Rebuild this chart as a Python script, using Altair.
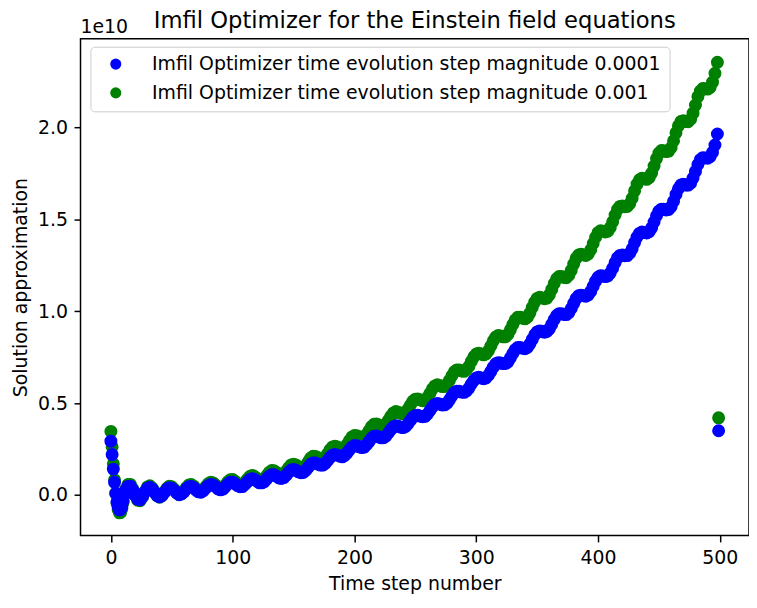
import altair as alt
import pandas as pd

# time step numbers (every step at the start, every 2 steps afterwards, plus the last step)
steps = list(range(0, 12)) + list(range(12, 499, 2)) + [499]

# values in units of 1e10
green = [0.346, 0.262, 0.170, 0.083, 0.010, -0.045, -0.080, -0.097, -0.095, -0.075, -0.040, 0.000,
         0.030, 0.057, 0.058, 0.033, -0.002, -0.028, -0.031, -0.010, 0.020, 0.044,
         0.050, 0.038, 0.016, -0.004, -0.012, -0.003, 0.017, 0.037, 0.048, 0.045,
         0.031, 0.014, 0.003, 0.007, 0.021, 0.040, 0.054, 0.057, 0.048, 0.033,
         0.020, 0.018, 0.028, 0.046, 0.062, 0.070, 0.066, 0.054, 0.040, 0.034,
         0.039, 0.054, 0.072, 0.083, 0.084, 0.075, 0.062, 0.054, 0.056, 0.069,
         0.086, 0.101, 0.107, 0.101, 0.090, 0.080, 0.079, 0.088, 0.106, 0.123,
         0.133, 0.132, 0.123, 0.112, 0.108, 0.114, 0.130, 0.149, 0.164, 0.168,
         0.163, 0.152, 0.146, 0.148, 0.161, 0.181, 0.201, 0.211, 0.210, 0.203,
         0.196, 0.196, 0.207, 0.226, 0.247, 0.262, 0.266, 0.261, 0.254, 0.251,
         0.259, 0.276, 0.298, 0.316, 0.324, 0.323, 0.316, 0.311, 0.315, 0.330,
         0.351, 0.372, 0.385, 0.387, 0.381, 0.375, 0.376, 0.388, 0.408, 0.430,
         0.447, 0.454, 0.451, 0.444, 0.442, 0.449, 0.468, 0.490, 0.511, 0.522,
         0.523, 0.517, 0.513, 0.516, 0.531, 0.554, 0.578, 0.594, 0.600, 0.596,
         0.590, 0.591, 0.603, 0.624, 0.649, 0.671, 0.681, 0.681, 0.675, 0.673,
         0.682, 0.701, 0.728, 0.752, 0.767, 0.772, 0.768, 0.763, 0.768, 0.785,
         0.811, 0.839, 0.860, 0.868, 0.866, 0.861, 0.861, 0.874, 0.899, 0.928,
         0.953, 0.967, 0.968, 0.963, 0.959, 0.968, 0.990, 1.021, 1.050, 1.070,
         1.076, 1.073, 1.068, 1.072, 1.089, 1.119, 1.151, 1.177, 1.189, 1.189,
         1.184, 1.183, 1.196, 1.223, 1.257, 1.288, 1.306, 1.311, 1.307, 1.304,
         1.312, 1.335, 1.369, 1.403, 1.428, 1.438, 1.436, 1.432, 1.436, 1.455,
         1.487, 1.524, 1.555, 1.571, 1.573, 1.569, 1.570, 1.585, 1.615, 1.655,
         1.692, 1.716, 1.724, 1.721, 1.718, 1.727, 1.752, 1.790, 1.831, 1.861,
         1.875, 1.874, 1.869, 1.872, 1.890, 1.927, 1.971, 2.009, 2.033, 2.037,
         2.033, 2.032, 2.045, 2.078, 2.122, 2.168, 2.199, 2.212, 2.211, 2.209,
         2.218, 2.247, 2.295, 2.355,
         0.420]

blue = [0.293, 0.220, 0.141, 0.069, 0.008, -0.037, -0.066, -0.081, -0.079, -0.062, -0.033, 0.000,
        0.025, 0.047, 0.048, 0.027, -0.002, -0.023, -0.026, -0.008, 0.017, 0.037,
        0.042, 0.032, 0.013, -0.003, -0.010, -0.002, 0.014, 0.031, 0.040, 0.037,
        0.026, 0.012, 0.002, 0.006, 0.017, 0.033, 0.045, 0.047, 0.040, 0.027,
        0.017, 0.015, 0.023, 0.038, 0.051, 0.058, 0.055, 0.045, 0.033, 0.028,
        0.032, 0.045, 0.060, 0.069, 0.070, 0.062, 0.051, 0.045, 0.046, 0.057,
        0.071, 0.084, 0.089, 0.084, 0.075, 0.066, 0.066, 0.073, 0.088, 0.102,
        0.110, 0.110, 0.102, 0.093, 0.090, 0.095, 0.108, 0.124, 0.136, 0.139,
        0.135, 0.126, 0.121, 0.123, 0.134, 0.150, 0.167, 0.175, 0.174, 0.168,
        0.163, 0.163, 0.172, 0.188, 0.205, 0.217, 0.221, 0.217, 0.211, 0.208,
        0.215, 0.229, 0.247, 0.262, 0.269, 0.268, 0.262, 0.258, 0.261, 0.274,
        0.291, 0.309, 0.320, 0.321, 0.316, 0.311, 0.312, 0.322, 0.339, 0.357,
        0.371, 0.377, 0.374, 0.369, 0.367, 0.373, 0.388, 0.407, 0.424, 0.433,
        0.434, 0.429, 0.426, 0.428, 0.441, 0.460, 0.480, 0.493, 0.498, 0.495,
        0.490, 0.491, 0.500, 0.518, 0.539, 0.557, 0.565, 0.565, 0.560, 0.559,
        0.566, 0.582, 0.604, 0.624, 0.637, 0.641, 0.637, 0.633, 0.637, 0.652,
        0.673, 0.696, 0.714, 0.720, 0.719, 0.715, 0.715, 0.725, 0.746, 0.770,
        0.791, 0.803, 0.803, 0.799, 0.796, 0.803, 0.822, 0.847, 0.872, 0.888,
        0.893, 0.891, 0.886, 0.890, 0.904, 0.929, 0.955, 0.977, 0.987, 0.987,
        0.983, 0.982, 0.993, 1.015, 1.043, 1.069, 1.084, 1.088, 1.085, 1.082,
        1.089, 1.108, 1.136, 1.164, 1.185, 1.194, 1.192, 1.189, 1.192, 1.208,
        1.234, 1.265, 1.291, 1.304, 1.306, 1.302, 1.303, 1.316, 1.340, 1.374,
        1.404, 1.424, 1.431, 1.428, 1.426, 1.433, 1.454, 1.486, 1.520, 1.545,
        1.556, 1.555, 1.551, 1.554, 1.569, 1.599, 1.636, 1.667, 1.687, 1.691,
        1.687, 1.687, 1.697, 1.725, 1.761, 1.799, 1.825, 1.836, 1.835, 1.833,
        1.841, 1.865, 1.905, 1.965,
        0.350]

label_blue = "Imfil Optimizer time evolution step magnitude 0.0001"
label_green = "Imfil Optimizer time evolution step magnitude 0.001"
title_text = "Imfil Optimizer for the Einstein field equations"
x_ticks = [0, 100, 200, 300, 400, 500]
y_ticks = [0.0, 0.5, 1.0, 1.5, 2.0]

n = len(steps)
df = pd.DataFrame({
    "step": steps + steps,
    "value": blue + green,
    "series": [label_blue] * n + [label_green] * n,
})

FONT = "DejaVu Sans"
W, H = 673, 500

points = alt.Chart(df).mark_circle(size=170, opacity=1).encode(
    x=alt.X("step:Q",
            scale=alt.Scale(domain=[-24.95, 523.95], nice=False, zero=False),
            axis=alt.Axis(values=x_ticks, title="Time step number", format="d")),
    y=alt.Y("value:Q",
            scale=alt.Scale(domain=[-0.22, 2.483], nice=False, zero=False),
            axis=alt.Axis(values=y_ticks, title="Solution approximation", format=".1f")),
    color=alt.Color("series:N",
                    scale=alt.Scale(domain=[label_blue, label_green], range=["#0000ff", "#008000"]),
                    sort=[label_blue, label_green],
                    legend=alt.Legend(title=None, orient="none", legendX=10, legendY=8,
                                      fillColor="white", strokeColor="#cccccc", cornerRadius=4,
                                      padding=8, symbolType="circle", symbolSize=125,
                                      symbolStrokeWidth=0, symbolOpacity=1, symbolOffset=8,
                                      labelFont=FONT, labelFontSize=19, labelColor="black",
                                      labelOffset=27, labelLimit=1000, rowPadding=9)),
    order=alt.Order("series:N", sort="descending"),
)

offset_text = alt.Chart(pd.DataFrame({"t": ["1e10"]})).mark_text(
    align="left", baseline="alphabetic", font=FONT, fontSize=19, color="black"
).encode(text="t:N", x=alt.value(0), y=alt.value(-6))

title_mark = alt.Chart(pd.DataFrame({"t": [title_text]})).mark_text(
    align="center", baseline="alphabetic", font=FONT, fontSize=22.8, color="black"
).encode(text="t:N", x=alt.value(W / 2), y=alt.value(-11))

chart = alt.layer(points, offset_text, title_mark).properties(
    width=W, height=H,
    autosize=alt.AutoSizeParams(type="none"),
    padding={"left": 73, "top": 29, "right": 0, "bottom": 63},
).configure_view(
    stroke="black", strokeWidth=1.5
).configure_axis(
    grid=False, domain=False, ticks=True, tickColor="black", tickWidth=1.5, tickSize=6.5,
    labelFont=FONT, labelFontSize=19, labelColor="black", labelPadding=6.5,
    labelFlush=False, labelOverlap=False,
    titleFont=FONT, titleFontSize=19, titleFontWeight="normal", titleColor="black",
    titlePadding=7,
)

chart.save("out.html", embed_options={"renderer": "svg", "actions": False})
